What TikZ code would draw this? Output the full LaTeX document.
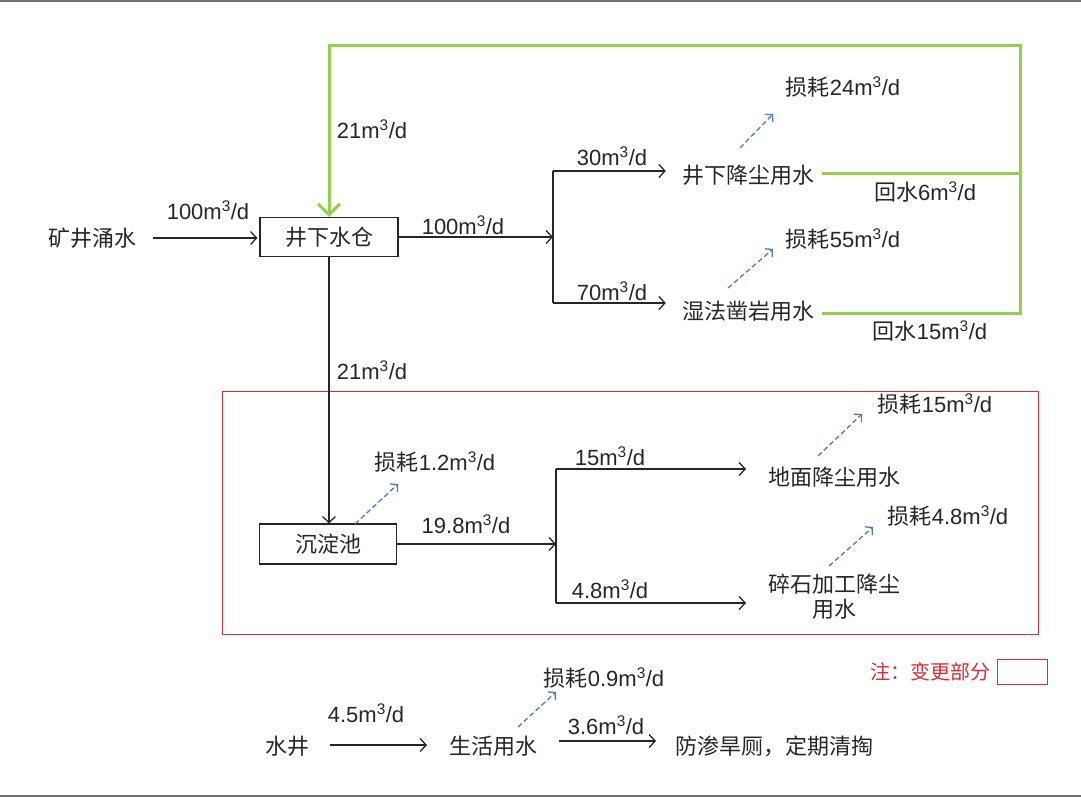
\documentclass[tikz,border=0pt]{standalone}
\usepackage{fontspec}
\setmainfont{Liberation Sans}
\newfontfamily\cjk{Noto Sans CJK SC}
\usetikzlibrary{arrows.meta}
\definecolor{lgreen}{RGB}{146,208,80}
\definecolor{lblue}{RGB}{80,120,200}
\definecolor{lred}{RGB}{215,45,55}
\newcommand{\mcd}{m\textsuperscript{3}/d}
\begin{document}
\begin{tikzpicture}[x=1pt,y=-1pt,
  every node/.style={font=\fontsize{22}{26}\selectfont, inner sep=0pt, text=black!85},
  lab/.style={yshift=3pt},
  boxnode/.style={draw=black!85, line width=1.1pt, minimum width=138pt, minimum height=39pt},
  arr/.style={draw=black!85, line width=1.3pt, -{Straight Barb[length=6pt,width=13pt,line width=1.3pt]}},
  plain/.style={draw=black!85, line width=1.3pt},
  grn/.style={draw=lgreen, line width=3pt},
  grnarr/.style={grn, -{Straight Barb[length=11pt,width=22pt,line width=3pt]}},
  loss/.style={draw=lblue, line width=1.3pt, dash pattern=on 5pt off 3pt, -{Straight Barb[length=5pt,width=11pt,line width=1.3pt]}}
]
\useasboundingbox (0,0) rectangle (1081,798);
\draw[black!55, line width=1.5pt] (0,1) -- (1081,1);
\draw[black!55, line width=1.5pt] (0,796) -- (1081,796);

% top part
\node (kj) at (92,238) {\cjk 矿井涌水};
\node[boxnode] (cang) at (329,237) {\cjk 井下水仓};
\draw[arr, shorten <=17pt, shorten >=2pt] (kj.east) -- (kj.east -| cang.west);
\node[lab] (l100a) at (208,213) {100\mcd};

\coordinate (b1) at (553,237);
\coordinate (b1t) at (553,171);
\coordinate (b1b) at (553,303);
\draw[arr] (cang.east) -- (b1);
\node[lab] (l100b) at (463,228) {100\mcd};
\draw[plain] (b1t) -- (b1b);

\node (jx) at (748,175) {\cjk 井下降尘用水};
\node (sf) at (748,311) {\cjk 湿法凿岩用水};
\draw[arr, shorten >=16pt] (b1t) -- (b1t -| jx.west);
\draw[arr, shorten >=16pt] (b1b) -- (b1b -| sf.west);
\node[lab] (l30) at (612,159) {30\mcd};
\node[lab] (l70) at (612,294) {70\mcd};

% green return loop
\coordinate (g0) at (329,45);
\coordinate (g1) at (1020,45);
\coordinate (gjx) at (1020,173);
\coordinate (gsf) at (1020,313);
\draw[grn, shorten <=8pt] (jx.east |- gjx) -- (gjx);
\draw[grnarr, shorten <=8pt] (sf.east |- gsf) -- (gsf) -- (g1) -- (g0) -- (cang.north);
\node[lab] (l21a) at (372,132) {21\mcd};
\node[lab] (hs6) at (925,195) {{\cjk 回水}6\mcd};
\node[lab] (hs15) at (930,334) {{\cjk 回水}15\mcd};

\node[lab] (ls24) at (843,90) {{\cjk 损耗}24\mcd};
\coordinate (d24a) at (740,148);
\coordinate (d24b) at (773,114);
\draw[loss] (d24a) -- (d24b);
\node[lab] (ls55) at (843,242) {{\cjk 损耗}55\mcd};
\coordinate (d55a) at (728,288);
\coordinate (d55b) at (773,249);
\draw[loss] (d55a) -- (d55b);

% red changed section
\draw[lred, line width=1pt] (222,391) rectangle (1038,634);
\node[boxnode, minimum width=137pt, minimum height=40pt] (cdc) at (328,544) {\cjk 沉淀池};
\draw[arr] (cang.south) -- (cang.south |- cdc.north);
\node[lab] (l21b) at (372,373) {21\mcd};

\node[lab] (ls12) at (435,465) {{\cjk 损耗}1.2\mcd};
\coordinate (d12a) at (355,524);
\coordinate (d12b) at (398,484);
\draw[loss] (d12a) -- (d12b);

\coordinate (b2) at (556,544);
\coordinate (b2t) at (556,469);
\coordinate (b2b) at (556,603);
\draw[arr] (cdc.east) -- (cdc.east -| b2);
\node[lab] (l198) at (466,527) {19.8\mcd};
\draw[plain] (b2t) -- (b2b);

\node (dm) at (834,477) {\cjk 地面降尘用水};
\node[align=center, font=\fontsize{22}{25}\selectfont\cjk] (ss) at (834,597) {碎石加工降尘\\用水};
\coordinate (e2t) at (746,469);
\coordinate (e2b) at (746,603);
\draw[arr] (b2t) -- (e2t);
\draw[arr] (b2b) -- (e2b);
\node[lab] (l15) at (610,459) {15\mcd};
\node[lab] (l48) at (610,592) {4.8\mcd};

\node[lab] (ls15) at (935,407) {{\cjk 损耗}15\mcd};
\coordinate (d15a) at (818,456);
\coordinate (d15b) at (862,414);
\draw[loss] (d15a) -- (d15b);
\node[lab] (ls48) at (948,519) {{\cjk 损耗}4.8\mcd};
\coordinate (d48a) at (829,566);
\coordinate (d48b) at (873,527);
\draw[loss] (d48a) -- (d48b);

\node[text=lred, font=\fontsize{20}{24}\selectfont] (note) at (930,672) {\cjk 注：变更部分};
\node[draw=lred, line width=1pt, minimum width=50pt, minimum height=25pt] (notebox) at (1022,671.5) {};

% bottom domestic water
\node (sj) at (287,746) {\cjk 水井};
\node (sh) at (493,746) {\cjk 生活用水};
\node (hc) at (774,746) {\cjk 防渗旱厕，定期清掏};
\coordinate (s1a) at (330,745);
\coordinate (s1b) at (427,745);
\draw[arr] (s1a) -- (s1b);
\node[lab] (l45) at (366,716) {4.5\mcd};
\coordinate (s2a) at (559,741);
\coordinate (s2b) at (656,741);
\draw[arr] (s2a) -- (s2b);
\node[lab] (l36) at (606,728) {3.6\mcd};
\node[lab] (ls09) at (604,681) {{\cjk 损耗}0.9\mcd};
\coordinate (d09a) at (518,727);
\coordinate (d09b) at (556,692);
\draw[loss] (d09a) -- (d09b);
\end{tikzpicture}
\end{document}
